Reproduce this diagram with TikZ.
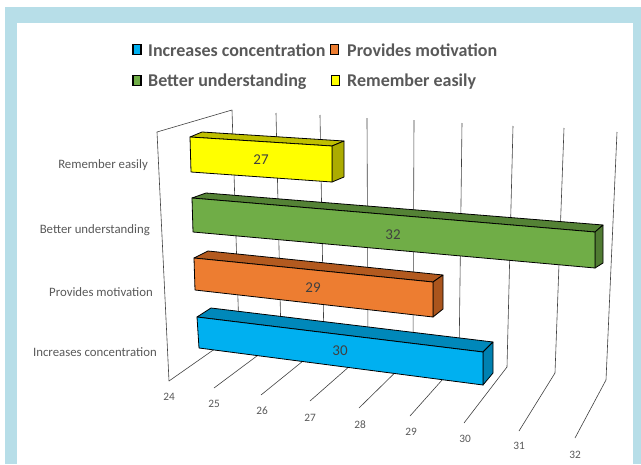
\documentclass[tikz,border=0pt]{standalone}
\usepackage{fontspec}
\setmainfont{Carlito}
\definecolor{frameblue}{HTML}{B7DEE8}
\definecolor{txt}{HTML}{595959}
\definecolor{valtxt}{HTML}{404040}
\definecolor{bluef}{HTML}{00B0F0}
\definecolor{bluet}{HTML}{0088BA}
\definecolor{oranf}{HTML}{ED7D31}
\definecolor{orant}{HTML}{B35A1F}
\definecolor{greenf}{HTML}{70AD47}
\definecolor{greent}{HTML}{548235}
\definecolor{yellf}{HTML}{FFFF00}
\definecolor{yellt}{HTML}{BFBF00}
\tikzset{
  face/.style={draw=black, line width=0.8pt, line join=round},
  gridline/.style={draw=black!75, line width=0.6pt},
  catlabel/.style={text=txt, font=\fontsize{12.8}{15}\selectfont, anchor=base east, inner sep=0pt},
  ticklabel/.style={text=txt, font=\fontsize{11.3}{13}\selectfont, inner sep=0pt},
  vallabel/.style={text=valtxt, font=\fontsize{15}{17}\selectfont, inner sep=0pt},
  legtext/.style={text=txt, font=\bfseries\fontsize{18}{21}\selectfont, anchor=base west, inner sep=0pt},
  legbox/.style={draw=black, line width=1.1pt, minimum width=8pt, minimum height=10.5pt, inner sep=0pt}
}
\begin{document}
\begin{tikzpicture}[x=1pt, y=-1pt]
\useasboundingbox (0,0) rectangle (641,464);
\fill[white] (0,0) rectangle (641,464);
\fill[frameblue] (5,7) rectangle (641,464);
\fill[white] (17,23) rectangle (633,464);

% legend
\node[legbox, fill=bluef] (lb1) at (137,49.5) {};
\node[legtext] (lt1) at (148,56) {Increases concentration};
\node[legbox, fill=oranf] (lb2) at (334.5,49.5) {};
\node[legtext] (lt2) at (347,56) {Provides motivation};
\node[legbox, fill=greenf] (lb3) at (137,80.5) {};
\node[legtext] (lt3) at (148,86.5) {Better understanding};
\node[legbox, fill=yellf] (lb4) at (335.5,80.5) {};
\node[legtext] (lt4) at (347,86.5) {Remember easily};

% grid coordinates: top, back-bottom, front
\coordinate (T24) at (232,110); \coordinate (B24) at (239,332); \coordinate (F24) at (169,381);
\coordinate (T25) at (276,113); \coordinate (B25) at (281,338); \coordinate (F25) at (214,388);
\coordinate (T26) at (320,115); \coordinate (B26) at (324,344); \coordinate (F26) at (261,395);
\coordinate (T27) at (367,118); \coordinate (B27) at (368,350); \coordinate (F27) at (310,401);
\coordinate (T28) at (414,120); \coordinate (B28) at (413,355); \coordinate (F28) at (359,408);
\coordinate (T29) at (462,123); \coordinate (B29) at (459,361); \coordinate (F29) at (410,416);
\coordinate (T30) at (513,126); \coordinate (B30) at (507,367); \coordinate (F30) at (464,423);
\coordinate (T31) at (564,128); \coordinate (B31) at (555,373); \coordinate (F31) at (519,431);
\coordinate (T32) at (617,132); \coordinate (B32) at (606,380); \coordinate (F32) at (575,438);
\coordinate (WL) at (157,132);

\draw[gridline] (F24) -- (WL) -- (T24);
\foreach \v in {24,...,32} {
  \draw[gridline] (T\v) -- (B\v) -- (F\v);
}

% tick labels
\foreach \v/\x/\y in {24/169/397,25/214/404,26/262/411,27/310/418,28/360/425,29/411/432,30/465/439,31/519/446,32/575/455} {
  \node[ticklabel] (tk\v) at (\x,\y) {\v};
}

% category labels
\node[catlabel] (c4) at (148,168) {Remember easily};
\node[catlabel] (c3) at (150,233) {Better understanding};
\node[catlabel] (c2) at (153,296) {Provides motivation};
\node[catlabel] (c1) at (157,356) {Increases concentration};

% yellow bar
\filldraw[face, fill=yellt] (190,137) -- (202,132) -- (344,141) -- (332,146) -- cycle;
\filldraw[face, fill=yellt!90!black] (332,146) -- (344,141) -- (344,177) -- (332,182) -- cycle;
\filldraw[face, fill=yellf] (190,137) -- (332,146) -- (332,182) -- (191,172) -- cycle;
\node[vallabel] (v4) at (261,160) {27};

% green bar
\filldraw[face, fill=greent] (192,198) -- (206,193) -- (603,225) -- (595,232) -- cycle;
\filldraw[face, fill=greent!95!black] (595,232) -- (603,225) -- (603,263) -- (595,268) -- cycle;
\filldraw[face, fill=greenf] (192,198) -- (595,232) -- (595,268) -- (193,232) -- cycle;
\node[vallabel] (v3) at (393,235) {32};

% orange bar
\filldraw[face, fill=orant] (194,258) -- (208,251) -- (443,275) -- (433,282) -- cycle;
\filldraw[face, fill=orant!95!black] (433,282) -- (443,275) -- (443,309) -- (433,317) -- cycle;
\filldraw[face, fill=oranf] (194,258) -- (433,282) -- (433,317) -- (195,290) -- cycle;
\node[vallabel] (v2) at (313,288) {29};

% blue bar
\filldraw[face, fill=bluet] (197,317) -- (211,308) -- (493,342) -- (483,352) -- cycle;
\filldraw[face, fill=bluet!95!black] (483,352) -- (493,342) -- (493,373) -- (483,385) -- cycle;
\filldraw[face, fill=bluef] (197,317) -- (483,352) -- (483,385) -- (199,348) -- cycle;
\node[vallabel] (v1) at (340,351) {30};
\end{tikzpicture}
\end{document}
